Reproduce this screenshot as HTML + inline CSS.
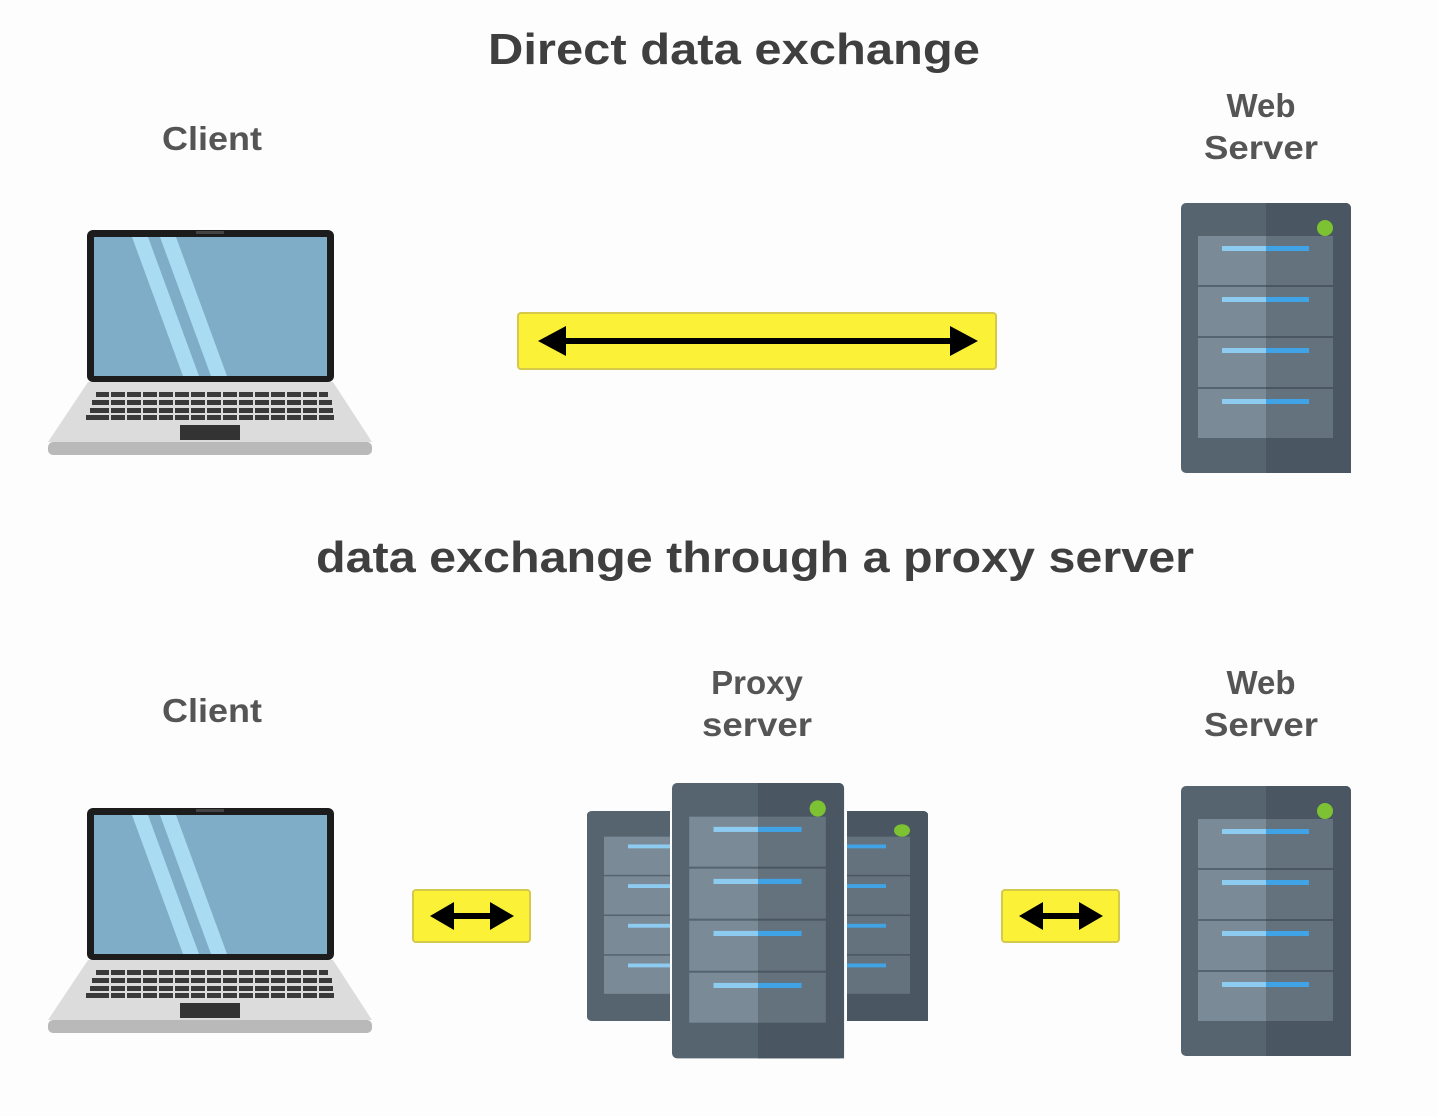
<!DOCTYPE html>
<html><head><meta charset="utf-8"><style>
html,body{margin:0;padding:0;background:#fdfdfd;}
svg{display:block;}
text{font-family:"Liberation Sans",sans-serif;font-weight:bold;}
</style></head><body>
<svg width="1438" height="1116" viewBox="0 0 1438 1116" xmlns="http://www.w3.org/2000/svg">
<defs>
<g id="laptop">
  <rect x="87" y="230" width="247" height="152" rx="6" fill="#1c1c1c"/>
  <rect x="94" y="237" width="233" height="139" fill="#7fadc7"/>
  <polygon points="132,237 148,237 199,376 183,376" fill="#a9dcf2"/>
  <polygon points="160,237 176,237 227,376 211,376" fill="#a9dcf2"/>
  <rect x="196" y="231" width="28" height="3" fill="#444"/>
  <polygon points="88,382 333,382 372,442 48,442" fill="#dcdcdc"/>
  <rect x="48" y="442" width="324" height="13" rx="5" fill="#b9b9b9"/>
  <g fill="#3a3a3a">
    <rect x="96" y="392" width="232" height="5"/>
    <rect x="92" y="400" width="240" height="5"/>
    <rect x="90" y="408" width="243" height="5"/>
    <rect x="86" y="415" width="248" height="5"/>
  </g>
  <g stroke="#dcdcdc" stroke-width="2">
    <line x1="110" y1="390" x2="110" y2="420"/><line x1="126" y1="390" x2="126" y2="420"/>
    <line x1="142" y1="390" x2="142" y2="420"/><line x1="158" y1="390" x2="158" y2="420"/>
    <line x1="174" y1="390" x2="174" y2="420"/><line x1="190" y1="390" x2="190" y2="420"/>
    <line x1="206" y1="390" x2="206" y2="420"/><line x1="222" y1="390" x2="222" y2="420"/>
    <line x1="238" y1="390" x2="238" y2="420"/><line x1="254" y1="390" x2="254" y2="420"/>
    <line x1="270" y1="390" x2="270" y2="420"/><line x1="286" y1="390" x2="286" y2="420"/>
    <line x1="302" y1="390" x2="302" y2="420"/><line x1="318" y1="390" x2="318" y2="420"/>
  </g>
  <rect x="180" y="425" width="60" height="15" fill="#333"/>
</g>
<g id="server">
  <rect x="0" y="0" width="170" height="270" rx="5" fill="#56646f"/>
  <path d="M85,0 H165 A5,5 0 0 1 170,5 V270 H85 Z" fill="#4a5762"/>
  <g>
    <rect x="17" y="33" width="68" height="49" fill="#7a8a96"/><rect x="85" y="33" width="67" height="49" fill="#64727d"/>
    <rect x="17" y="84" width="68" height="49" fill="#7a8a96"/><rect x="85" y="84" width="67" height="49" fill="#64727d"/>
    <rect x="17" y="135" width="68" height="49" fill="#7a8a96"/><rect x="85" y="135" width="67" height="49" fill="#64727d"/>
    <rect x="17" y="186" width="68" height="49" fill="#7a8a96"/><rect x="85" y="186" width="67" height="49" fill="#64727d"/>
  </g>
  <g>
    <rect x="41" y="43" width="44" height="5" fill="#8ecbf0"/><rect x="85" y="43" width="43" height="5" fill="#3fa3e6"/>
    <rect x="41" y="94" width="44" height="5" fill="#8ecbf0"/><rect x="85" y="94" width="43" height="5" fill="#3fa3e6"/>
    <rect x="41" y="145" width="44" height="5" fill="#8ecbf0"/><rect x="85" y="145" width="43" height="5" fill="#3fa3e6"/>
    <rect x="41" y="196" width="44" height="5" fill="#8ecbf0"/><rect x="85" y="196" width="43" height="5" fill="#3fa3e6"/>
  </g>
  <circle cx="144" cy="25" r="8" fill="#7cc232"/>
</g>
</defs>

<text x="488" y="64" font-size="44" fill="#3f3f3f" textLength="492" lengthAdjust="spacingAndGlyphs">Direct data exchange</text>
<text x="162" y="150" font-size="33" fill="#555" textLength="100" lengthAdjust="spacingAndGlyphs">Client</text>
<text x="1261" y="117" font-size="33" fill="#555" text-anchor="middle">Web</text>
<text x="1204" y="159" font-size="33" fill="#555" textLength="114" lengthAdjust="spacingAndGlyphs">Server</text>

<use href="#laptop"/>
<use href="#server" x="1181" y="203"/>

<rect x="518" y="313" width="478" height="56" rx="3" fill="#fbf238" stroke="#d6c84a" stroke-width="2"/>
<line x1="560" y1="341" x2="956" y2="341" stroke="#000" stroke-width="6"/>
<polygon points="538,341 566,326 566,356" fill="#000"/>
<polygon points="978,341 950,326 950,356" fill="#000"/>

<text x="316" y="572" font-size="44" fill="#3f3f3f" textLength="878" lengthAdjust="spacingAndGlyphs">data exchange through a proxy server</text>

<text x="162" y="722" font-size="33" fill="#555" textLength="100" lengthAdjust="spacingAndGlyphs">Client</text>
<text x="757" y="694" font-size="33" fill="#555" text-anchor="middle">Proxy</text>
<text x="702" y="736" font-size="33" fill="#555" textLength="110" lengthAdjust="spacingAndGlyphs">server</text>
<text x="1261" y="694" font-size="33" fill="#555" text-anchor="middle">Web</text>
<text x="1204" y="736" font-size="33" fill="#555" textLength="114" lengthAdjust="spacingAndGlyphs">Server</text>

<use href="#laptop" transform="translate(0,578)"/>
<use href="#server" x="1181" y="786"/>

<g transform="translate(587,811) scale(1,0.778)"><use href="#server"/></g>
<g transform="translate(758,811) scale(1,0.778)"><use href="#server"/></g>
<rect x="670" y="808" width="4" height="216" fill="#fdfdfd"/>
<rect x="843" y="808" width="4" height="216" fill="#fdfdfd"/>
<g transform="translate(672,783) scale(1.012,1.02)"><use href="#server"/></g>

<rect x="413" y="890" width="117" height="52" rx="3" fill="#fbf238" stroke="#d6c84a" stroke-width="2"/>
<line x1="450" y1="916" x2="495" y2="916" stroke="#000" stroke-width="6"/>
<polygon points="430,916 454,902 454,930" fill="#000"/>
<polygon points="514,916 490,902 490,930" fill="#000"/>

<rect x="1002" y="890" width="117" height="52" rx="3" fill="#fbf238" stroke="#d6c84a" stroke-width="2"/>
<line x1="1039" y1="916" x2="1084" y2="916" stroke="#000" stroke-width="6"/>
<polygon points="1019,916 1043,902 1043,930" fill="#000"/>
<polygon points="1103,916 1079,902 1079,930" fill="#000"/>
</svg>
</body></html>
